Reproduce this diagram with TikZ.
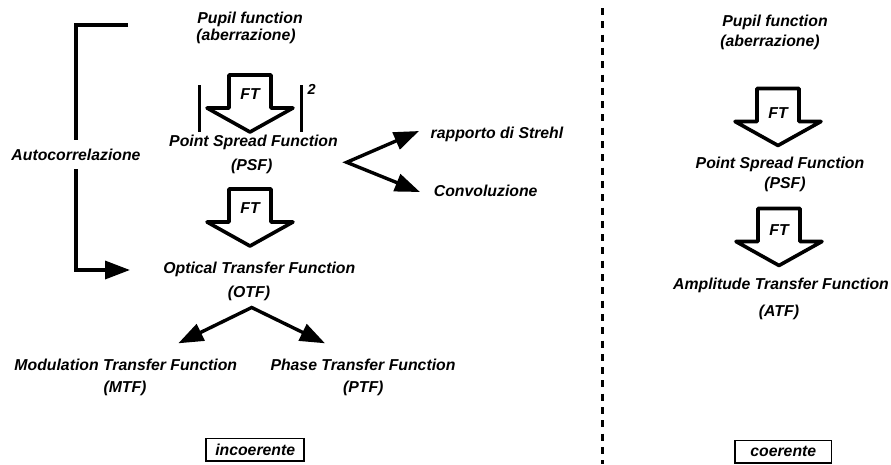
\documentclass[tikz,border=0pt]{standalone}
\usepackage{fontspec}
\setmainfont{Liberation Sans}
\usetikzlibrary{arrows.meta}

\tikzset{
  lbl/.style={font=\fontsize{15.8}{18}\selectfont\bfseries\itshape, inner sep=0pt, anchor=base},
  conn/.style={line width=3.4pt},
  arr/.style={conn, -{Triangle[length=25pt,width=18pt]}},
  twoarr/.style={conn, {Triangle[length=25pt,width=18pt]}-{Triangle[length=25pt,width=18pt]}},
  blk/.style={line width=3.6pt, line join=round},
  tag/.style={draw, line width=1.5pt, inner sep=0pt, minimum height=22.5pt,
              font=\fontsize{15.8}{18}\selectfont\bfseries\itshape},
  sep/.style={line width=3.4pt, dash pattern=on 7pt off 6.3pt},
}

% block arrow labelled FT: #1 label name, #2 centre x, #3 top y, #4 label baseline
\newcommand\ftblock[4]{%
  \draw[blk] (#2-21,#3) -- (#2+21,#3) -- (#2+21,#3+33) -- (#2+43,#3+33)
    -- (#2,#3+57) -- (#2-43,#3+33) -- (#2-21,#3+33) -- cycle;
  \node[lbl] (#1) at (#2,#4) {FT};}

\begin{document}
\begin{tikzpicture}[x=1pt,y=-1pt]
\useasboundingbox (0,0) rectangle (891,464);

% ---------------- incoherent case ----------------
\node[lbl] (pupilA) at (250,23) {Pupil function};
\node[lbl] (aberA) at (246,40) {(aberrazione)};

\ftblock{ftA}{250}{75}{99}
\draw[conn] (199.3,85) -- (199.3,131.7);
\draw[conn] (301.7,85) -- (301.7,131.7);
\node[lbl, font=\fontsize{14.5}{17}\selectfont\bfseries\itshape] (sq) at (311.7,94) {2};

\node[lbl] (psfA) at (253.5,146.5) {Point Spread Function};
\node[lbl] (psfAb) at (251.7,170) {(PSF)};

\ftblock{ftB}{250}{189}{213}

\node[lbl] (otf) at (259.3,273) {Optical Transfer Function};
\node[lbl] (otfb) at (249,297) {(OTF)};

\node[lbl] (mtf) at (125.8,370) {Modulation Transfer Function};
\node[lbl] (mtfb) at (125,392) {(MTF)};
\node[lbl] (ptf) at (363,370) {Phase Transfer Function};
\node[lbl] (ptfb) at (363.3,392) {(PTF)};

\node[lbl] (strehl) at (497,138) {rapporto di Strehl};
\node[lbl] (conv) at (485.7,196.5) {Convoluzione};

% autocorrelation bracket
\node[lbl, outer ysep=9pt] (auto) at (76,160) {Autocorrelazione};
\coordinate (brTop) at (128,25);
\coordinate (otfIn) at (130,270);
\draw[conn] (brTop) -| (auto.north);
\draw[arr] (auto.south) |- (otfIn);

% branches from the PSF
\coordinate (psfV) at (346.7,162.3);
\coordinate (strehlTip) at (419,131);
\coordinate (convTip) at (420,192);
\draw[twoarr] (strehlTip) -- (psfV) -- (convTip);

% branches from the OTF
\coordinate (otfV) at (251.7,307.5);
\coordinate (mtfTip) at (178.3,343.3);
\coordinate (ptfTip) at (325,343.3);
\draw[twoarr] (mtfTip) -- (otfV) -- (ptfTip);

\node[tag, minimum width=98pt] (inc) at (255.2,449.7) {incoerente};

% ---------------- separator ----------------
\coordinate (sepTop) at (602.3,8);
\coordinate (sepBot) at (602.3,464);
\draw[sep] (sepTop) -- (sepBot);

% ---------------- coherent case ----------------
\node[lbl] (pupilB) at (775,26) {Pupil function};
\node[lbl] (aberB) at (770,46.5) {(aberrazione)};

\ftblock{ftC}{778}{88.5}{118}

\node[lbl] (psfB) at (780,168) {Point Spread Function};
\node[lbl] (psfBb) at (785,188.5) {(PSF)};

\ftblock{ftD}{779}{208.5}{235}

\node[lbl] (atf) at (781,289.5) {Amplitude Transfer Function};
\node[lbl] (atfb) at (779,316.8) {(ATF)};

\node[tag, minimum width=96.7pt] (coe) at (783.3,451.5) {coerente};
\end{tikzpicture}
\end{document}
